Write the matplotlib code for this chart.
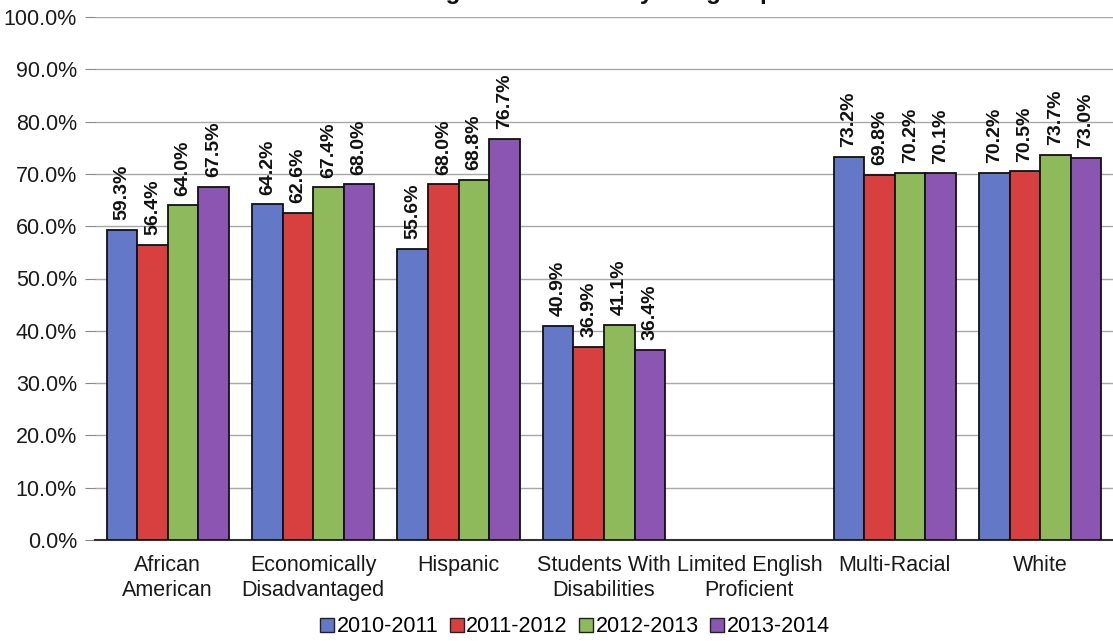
import numpy as np
import matplotlib
matplotlib.use("Agg")
import matplotlib.pyplot as plt
from matplotlib.patches import Patch

plt.rcParams['font.family'] = ['Liberation Sans', 'DejaVu Sans']

categories = ["African\nAmerican", "Economically\nDisadvantaged", "Hispanic",
              "Students With\nDisabilities", "Limited English\nProficient",
              "Multi-Racial", "White"]
years = ["2010-2011", "2011-2012", "2012-2013", "2013-2014"]
rate_2010_2011 = [59.3, 64.2, 55.6, 40.9, np.nan, 73.2, 70.2]
rate_2011_2012 = [56.4, 62.6, 68.0, 36.9, np.nan, 69.8, 70.5]
rate_2012_2013 = [64.0, 67.4, 68.8, 41.1, np.nan, 70.2, 73.7]
rate_2013_2014 = [67.5, 68.0, 76.7, 36.4, np.nan, 70.1, 73.0]
series = [rate_2010_2011, rate_2011_2012, rate_2012_2013, rate_2013_2014]
colors = ["#6378C6", "#D8403F", "#8FBA5C", "#8A56B2"]
yticks = np.arange(0, 101, 10)

W, H = 1113, 641
fig = plt.figure(figsize=(W / 100, H / 100), dpi=100)
ax = fig.add_axes([95 / W, 1 - 540 / H, (W - 95) / W, (540 - 17) / H])

x = np.arange(len(categories))
bw = 0.21
for k, (vals, col) in enumerate(zip(series, colors)):
    pos = x + (k - 1.5) * bw
    ax.bar(pos, vals, width=bw, color=col, edgecolor="#111111", linewidth=1.3, zorder=3)
    for xp, v in zip(pos, vals):
        if np.isnan(v):
            continue
        ax.annotate(f"{v:.1f}%", (xp, v), xytext=(0, 7), textcoords="offset points",
                    rotation=90, ha="center", va="bottom", fontsize=14,
                    fontweight="bold", color="#111111", zorder=4)

ax.set_xlim(-0.5, len(categories) - 0.5)
ax.set_ylim(0, 100)
ax.set_yticks(yticks)
ax.set_yticklabels([f"{t:.1f}%" for t in yticks], fontsize=15.5, color="#1a1a1a")
ax.set_xticks(x)
ax.set_xticklabels(categories, fontsize=15.5, color="#1a1a1a", linespacing=1.25)
ax.tick_params(axis="x", length=0, pad=11)
ax.tick_params(axis="y", length=7, color="#888888", pad=6)
ax.yaxis.grid(True, color="#A8A8A8", linewidth=1.0, zorder=0)
ax.set_axisbelow(True)
for s in ["top", "right", "left"]:
    ax.spines[s].set_visible(False)
ax.spines["bottom"].set_color("#333333")
ax.spines["bottom"].set_linewidth(1.5)

handles = [Patch(facecolor=c, edgecolor="#222222", linewidth=1.0) for c in colors]
fig.legend(handles, years, loc="center", bbox_to_anchor=(575 / W, 1 - 627 / H),
           ncol=4, frameon=False, fontsize=15.5, handlelength=0.65, handleheight=0.65,
           handletextpad=0.1, columnspacing=0.55)

# Chart title sits at the very top edge of the canvas
fig.text(553 / W, 1 + 1 / H, "Graduating Class Cohort by Subgroup", ha="center",
         va="baseline", fontsize=17.5, fontweight="bold", color="#111111")

fig.savefig("out.png", dpi=100, facecolor="white")
